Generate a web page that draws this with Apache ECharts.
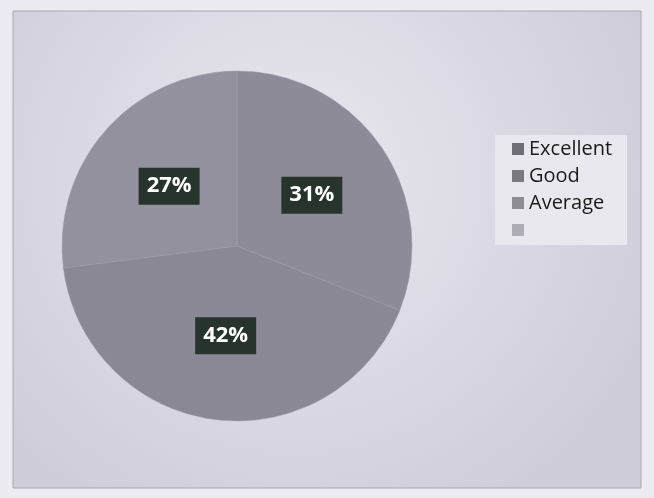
<!DOCTYPE html>
<html>
<head>
<meta charset="utf-8">
<script src="https://cdn.jsdelivr.net/npm/echarts@6/dist/echarts.min.js"></script>
<style>
  html, body { margin: 0; padding: 0; background: #ecebf1; }
  #chart { width: 654px; height: 498px; }
</style>
</head>
<body>
<div id="chart"></div>
<script>
const categories = ['Excellent', 'Good', 'Average', ' '];
const percents = [31, 42, 27, 0];
const sliceColors = ['#8d8b97', '#8a8894', '#93919d', '#b2b0ba'];
const legendColors = ['#6f6e76', '#7a797f', '#8e8d93', '#aeadb5'];

const chart = echarts.init(document.getElementById('chart'));

const data = categories.map(function (name, i) {
    return {
        name: name,
        value: percents[i],
        itemStyle: { color: sliceColors[i] },
        label: { show: percents[i] > 0 }
    };
});

const option = {
    animation: false,
    backgroundColor: '#ecebf1',
    graphic: [{
        type: 'rect',
        z: -10,
        shape: { x: 13, y: 11, width: 628, height: 477 },
        style: {
            fill: {
                type: 'radial', x: 0.45, y: 0.35, r: 0.8,
                colorStops: [
                    { offset: 0, color: '#e9e7ef' },
                    { offset: 1, color: '#cfcdd9' }
                ]
            },
            stroke: '#a9a7b2',
            lineWidth: 1
        }
    }, {
        type: 'rect',
        z: -5,
        shape: { x: 495, y: 135, width: 132, height: 110 },
        style: { fill: '#e9e8ee' }
    }],
    legend: {
        orient: 'vertical',
        left: 512,
        top: 139,
        padding: 0,
        itemWidth: 12,
        itemHeight: 12,
        itemGap: 7,
        icon: 'rect',
        itemStyle: { borderWidth: 0 },
        data: categories.map(function (name, i) {
            return { name: name, itemStyle: { color: legendColors[i], borderWidth: 0 } };
        }),
        textStyle: {
            fontFamily: 'Open Sans',
            fontSize: 20,
            lineHeight: 20,
            color: '#1a1a1a',
            padding: [0, 0, 0, 0]
        }
    },
    series: [{
        type: 'pie',
        center: [237, 246],
        radius: 175,
        startAngle: 90,
        clockwise: true,
        silent: true,
        data: data,
        itemStyle: {
            borderColor: '#9c9aa6',
            borderWidth: 0.5
        },
        label: {
            position: 'inside',
            formatter: '{c}%',
            fontFamily: 'Open Sans',
            fontSize: 22,
            fontWeight: 'bold',
            color: '#ffffff',
            backgroundColor: '#27342c',
            padding: [9, 8, 6, 8]
        },
        labelLine: { show: false }
    }]
};

chart.setOption(option);
</script>
</body>
</html>
